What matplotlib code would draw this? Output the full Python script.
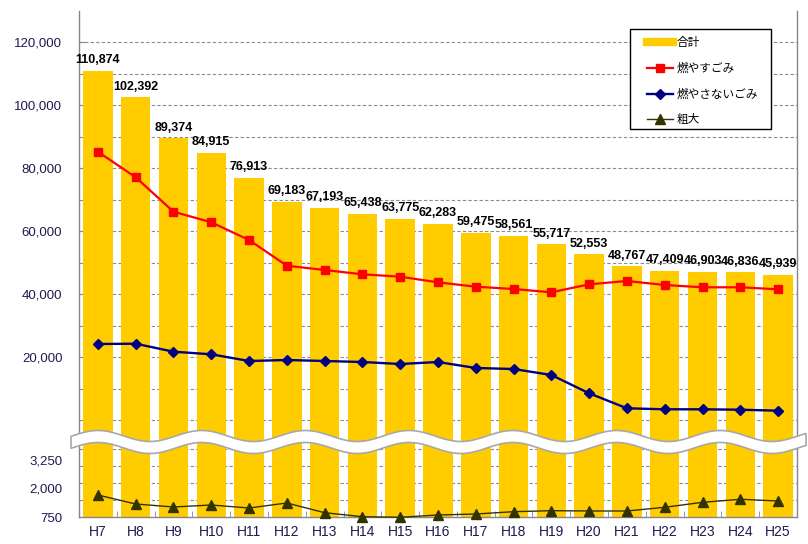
import matplotlib
matplotlib.use('Agg')
import matplotlib.pyplot as plt
import numpy as np
from matplotlib.lines import Line2D
from matplotlib.patches import Polygon, Rectangle
import matplotlib.transforms as mtransforms
from matplotlib.ticker import FixedLocator, FuncFormatter

plt.rcParams['font.family'] = ['Liberation Sans', 'DejaVu Sans']

years = ['H7', 'H8', 'H9', 'H10', 'H11', 'H12', 'H13', 'H14', 'H15', 'H16',
         'H17', 'H18', 'H19', 'H20', 'H21', 'H22', 'H23', 'H24', 'H25']
total = [110874, 102392, 89374, 84915, 76913, 69183, 67193, 65438, 63775, 62283,
         59475, 58561, 55717, 52553, 48767, 47409, 46903, 46836, 45939]
burnable = [85175, 77048, 66127, 62762, 57143, 48984, 47619, 46254, 45492, 43700,
            42317, 41587, 40540, 43079, 44127, 42857, 42127, 42127, 41492]
nonburnable = [24127, 24222, 21683, 20857, 18730, 19048, 18730, 18413, 17778, 18413,
               16508, 16190, 14286, 8476, 3714, 3397, 3397, 3270, 2952]
bulky = [1559, 1228, 1118, 1191, 1081, 1265, 908, 761, 740, 824,
         860, 945, 982, 971, 971, 1107, 1290, 1401, 1338]
legend_labels = ['合計', '燃やすごみ', '燃やさないごみ', '粗大']
upper_ticks = [20000, 40000, 60000, 80000, 100000, 120000]
lower_ticks = [750, 2000, 3250]

W, H = 808, 544
fig = plt.figure(figsize=(W / 100, H / 100), dpi=100)

def fx(px):
    return px / W

def fy(py):
    return 1 - py / H

left_px, right_px = 79, 797
brk_px, top_px, bot_px = 437, 10.5, 517

ax_up = fig.add_axes([fx(left_px), fy(brk_px), fx(right_px - left_px), (brk_px - top_px) / H])
ax_lo = fig.add_axes([fx(left_px), fy(bot_px), fx(right_px - left_px), (bot_px - brk_px) / H], sharex=ax_up)

x = np.arange(len(years))
bar_color = '#FFCC00'
grid_kw = dict(color='#8c8c8c', linestyle=(0, (3, 2)), linewidth=0.8)
tick_color = '#1c1c50'
spine_color = '#868686'

up_per_px = 20000 / 63.0
up_lo = 20000 - (brk_px - 357) * up_per_px
up_hi = 20000 + (357 - top_px) * up_per_px
ax_up.set_ylim(up_lo, up_hi)
lo_per_px = 625 / 17.0
ax_lo.set_ylim(750, 750 + (bot_px - brk_px) * lo_per_px)
ax_up.set_xlim(-0.5, len(years) - 0.5)

for ax in (ax_up, ax_lo):
    ax.set_axisbelow(True)
    ax.set_facecolor('none')

ax_up.bar(x, [t - up_lo for t in total], bottom=up_lo, width=0.78, color=bar_color, zorder=2)
ax_lo.bar(x, [t - 750 for t in total], bottom=750, width=0.78, color=bar_color, zorder=2)

ax_up.plot(x, burnable, color='#FF0000', lw=1.6, marker='s', ms=6, mfc='#FF0000', mec='#FF0000', zorder=4)
ax_up.plot(x, nonburnable, color='#000080', lw=1.7, marker='D', ms=5, mfc='#000080', mec='#000080', zorder=4)
ax_lo.plot(x, bulky, color='#333300', lw=1.0, marker='^', ms=7.5, mfc='#333300', mec='#333300', zorder=4, clip_on=False)

for xi, t in zip(x, total):
    ax_up.annotate(f'{t:,}', (xi, t), xytext=(0, 3.5), textcoords='offset points',
                   ha='center', va='bottom', fontsize=9, fontweight='bold', color='black',
                   annotation_clip=False, zorder=6)

for v in range(0, 130000, 10000):
    ax_up.axhline(v, zorder=1, **grid_kw)
for k in range(1, 5):
    ax_lo.axhline(750 + 625 * k, zorder=1, **grid_kw)

ax_up.yaxis.set_major_locator(FixedLocator(upper_ticks))
ax_up.yaxis.set_minor_locator(FixedLocator(list(range(0, 130000, 10000))))
ax_up.yaxis.set_major_formatter(FuncFormatter(lambda v, p: f'{int(v):,}'))
ax_up.tick_params(axis='y', which='both', direction='in', length=4, color=spine_color,
                  labelsize=9.5, labelcolor=tick_color, pad=12)
ax_up.tick_params(axis='x', which='both', bottom=False, labelbottom=False)

ax_lo.yaxis.set_major_locator(FixedLocator(lower_ticks))
ax_lo.yaxis.set_minor_locator(FixedLocator([750 + 625 * k for k in range(0, 5)]))
ax_lo.yaxis.set_major_formatter(FuncFormatter(lambda v, p: f'{int(v):,}'))
ax_lo.tick_params(axis='y', which='both', direction='in', length=4, color=spine_color,
                  labelsize=9.5, labelcolor=tick_color, pad=12)
ax_lo.tick_params(axis='y', which='major', length=0)
shifts = {750: 0, 2000: -5, 3250: -11}
for val, lab in zip(lower_ticks, ax_lo.get_yticklabels()):
    off = mtransforms.ScaledTranslation(0, shifts[val] / 100.0, fig.dpi_scale_trans)
    lab.set_transform(lab.get_transform() + off)

ax_lo.set_xticks(x)
ax_lo.set_xticklabels(years)
ax_lo.xaxis.set_minor_locator(FixedLocator(list(np.arange(-0.5, len(years), 1.0))))
ax_lo.tick_params(axis='x', which='major', length=0, labelsize=10, labelcolor=tick_color, pad=6)
ax_lo.tick_params(axis='x', which='minor', direction='in', length=4, color=spine_color)

for ax in (ax_up, ax_lo):
    for s in ('left', 'right', 'bottom', 'top'):
        ax.spines[s].set_color(spine_color)
        ax.spines[s].set_linewidth(1.0)
ax_up.spines['top'].set_visible(False)
ax_up.spines['bottom'].set_visible(False)
ax_lo.spines['top'].set_visible(False)

# wave (axis break)
P = 103.7
xs = np.linspace(71, 806, 400)
yc = 442 - 5.5 * np.cos(2 * np.pi * (xs - 98) / P)
top_edge = yc - 6
bot_edge = yc + 6
pts = np.concatenate([np.column_stack([xs, top_edge]), np.column_stack([xs[::-1], bot_edge[::-1]])])
pts_f = np.column_stack([pts[:, 0] / W, 1 - pts[:, 1] / H])
wave = Polygon(pts_f, closed=True, transform=fig.transFigure, facecolor='white',
               edgecolor='#a8a8a8', linewidth=1.2, zorder=10)
fig.add_artist(wave)

# legend box
box = Rectangle((fx(630), fy(129)), fx(771 - 630), (129 - 29) / H, transform=fig.transFigure,
                facecolor='white', edgecolor='black', linewidth=1.0, zorder=19)
fig.add_artist(box)
handles = [
    Line2D([], [], color=bar_color, lw=6),
    Line2D([], [], color='#FF0000', lw=1.6, marker='s', ms=6),
    Line2D([], [], color='#000080', lw=1.7, marker='D', ms=5),
    Line2D([], [], color='#333300', lw=1.0, marker='^', ms=7.5),
]
leg = fig.legend(handles, legend_labels, loc='upper left', bbox_to_anchor=(fx(647), fy(36)),
                 frameon=False,
                 prop={'family': ['Noto Sans CJK JP', 'DejaVu Sans'], 'size': 8.4},
                 handlelength=2.2, handletextpad=0.3, labelspacing=1.1, borderpad=0,
                 borderaxespad=0)
leg.set_zorder(20)

fig.savefig('out.png', dpi=100)
